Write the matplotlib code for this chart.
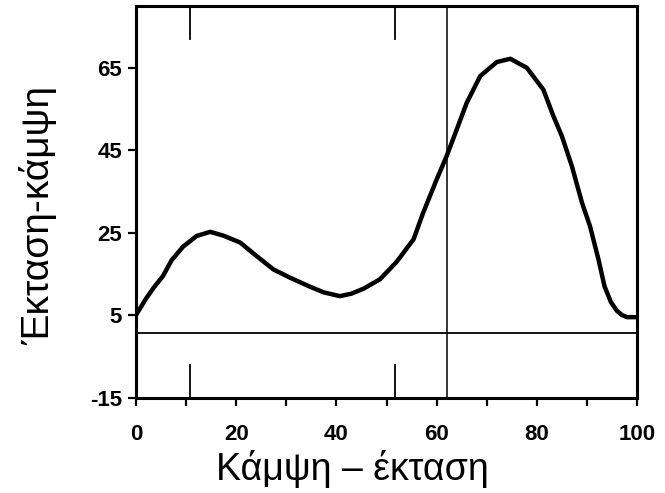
import matplotlib
matplotlib.use("Agg")
import matplotlib.pyplot as plt
import numpy as np

# data
x_vals = [0, 1, 2, 3.5, 5.4, 7.1, 9.4, 12.1, 14.8, 17.4, 20.8, 24.1, 27.4, 30.7,
          34.7, 37.5, 40.7, 43, 45.4, 48.7, 52.0, 55.4, 57.3, 60.0, 62.0, 64.0,
          66.0, 68.7, 72.0, 74.7, 78.0, 81.3, 83.3, 85.0, 87.0, 89.0, 90.6, 92.3,
          93.5, 94.8, 96, 97, 98, 100]
y_vals = [5.0, 7.0, 9.0, 11.6, 14.5, 18.3, 21.6, 24.2, 25.2, 24.3, 22.6, 19.3,
          16.1, 14.1, 11.9, 10.5, 9.6, 10.2, 11.4, 13.7, 17.9, 23.4, 29.8, 37.9,
          43.6, 50.0, 56.5, 63.0, 66.4, 67.2, 65.0, 59.7, 53.3, 48.4, 41.1, 32.3,
          26.6, 18.5, 12.0, 8.1, 6.0, 5.0, 4.5, 4.5]
y_ticks = [-15, 5, 25, 45, 65]
x_ticks = [0, 20, 40, 60, 80, 100]
x_minor = [10, 30, 50, 70, 90]
h_line = 0.7
v_line = 62
short_marks = [10.8, 51.7]

plt.rcParams['font.family'] = ['Liberation Sans', 'DejaVu Sans']

fig = plt.figure(figsize=(6.65, 4.93), dpi=100)
ax = fig.add_axes([0.2045, 0.1937, 0.7535, 0.7941])

ax.plot(x_vals, y_vals, color='black', lw=3.2, solid_capstyle='round', zorder=3)
ax.axhline(h_line, color='black', lw=1.3)
ax.axvline(v_line, color='black', lw=1.1)
for m in short_marks:
    ax.plot([m, m], [80, 72], color='black', lw=1.3)
    ax.plot([m, m], [-15, -7], color='black', lw=1.3)

ax.set_xlim(0, 100)
ax.set_ylim(-15, 80)
ax.set_xticks(x_ticks)
ax.set_xticks(x_minor, minor=True)
ax.set_yticks(y_ticks)
ax.set_xticklabels([str(v) for v in x_ticks], fontsize=16, fontweight='bold')
ax.set_yticklabels([str(v) for v in y_ticks], fontsize=16, fontweight='bold')
ax.tick_params(axis='both', which='both', direction='out', length=6, width=1.6,
               pad=13, color='black')
ax.tick_params(axis='y', pad=4)
for s in ax.spines.values():
    s.set_linewidth(2.2)

ax.set_xlabel('Κάμψη – έκταση', fontsize=27)
ax.xaxis.set_label_coords((352 - 136) / 501, -0.135)
ax.set_ylabel('Έκταση-κάμψη', fontsize=28)
ax.yaxis.set_label_coords(-0.158, 0.464)

fig.savefig('out.png', dpi=100)
